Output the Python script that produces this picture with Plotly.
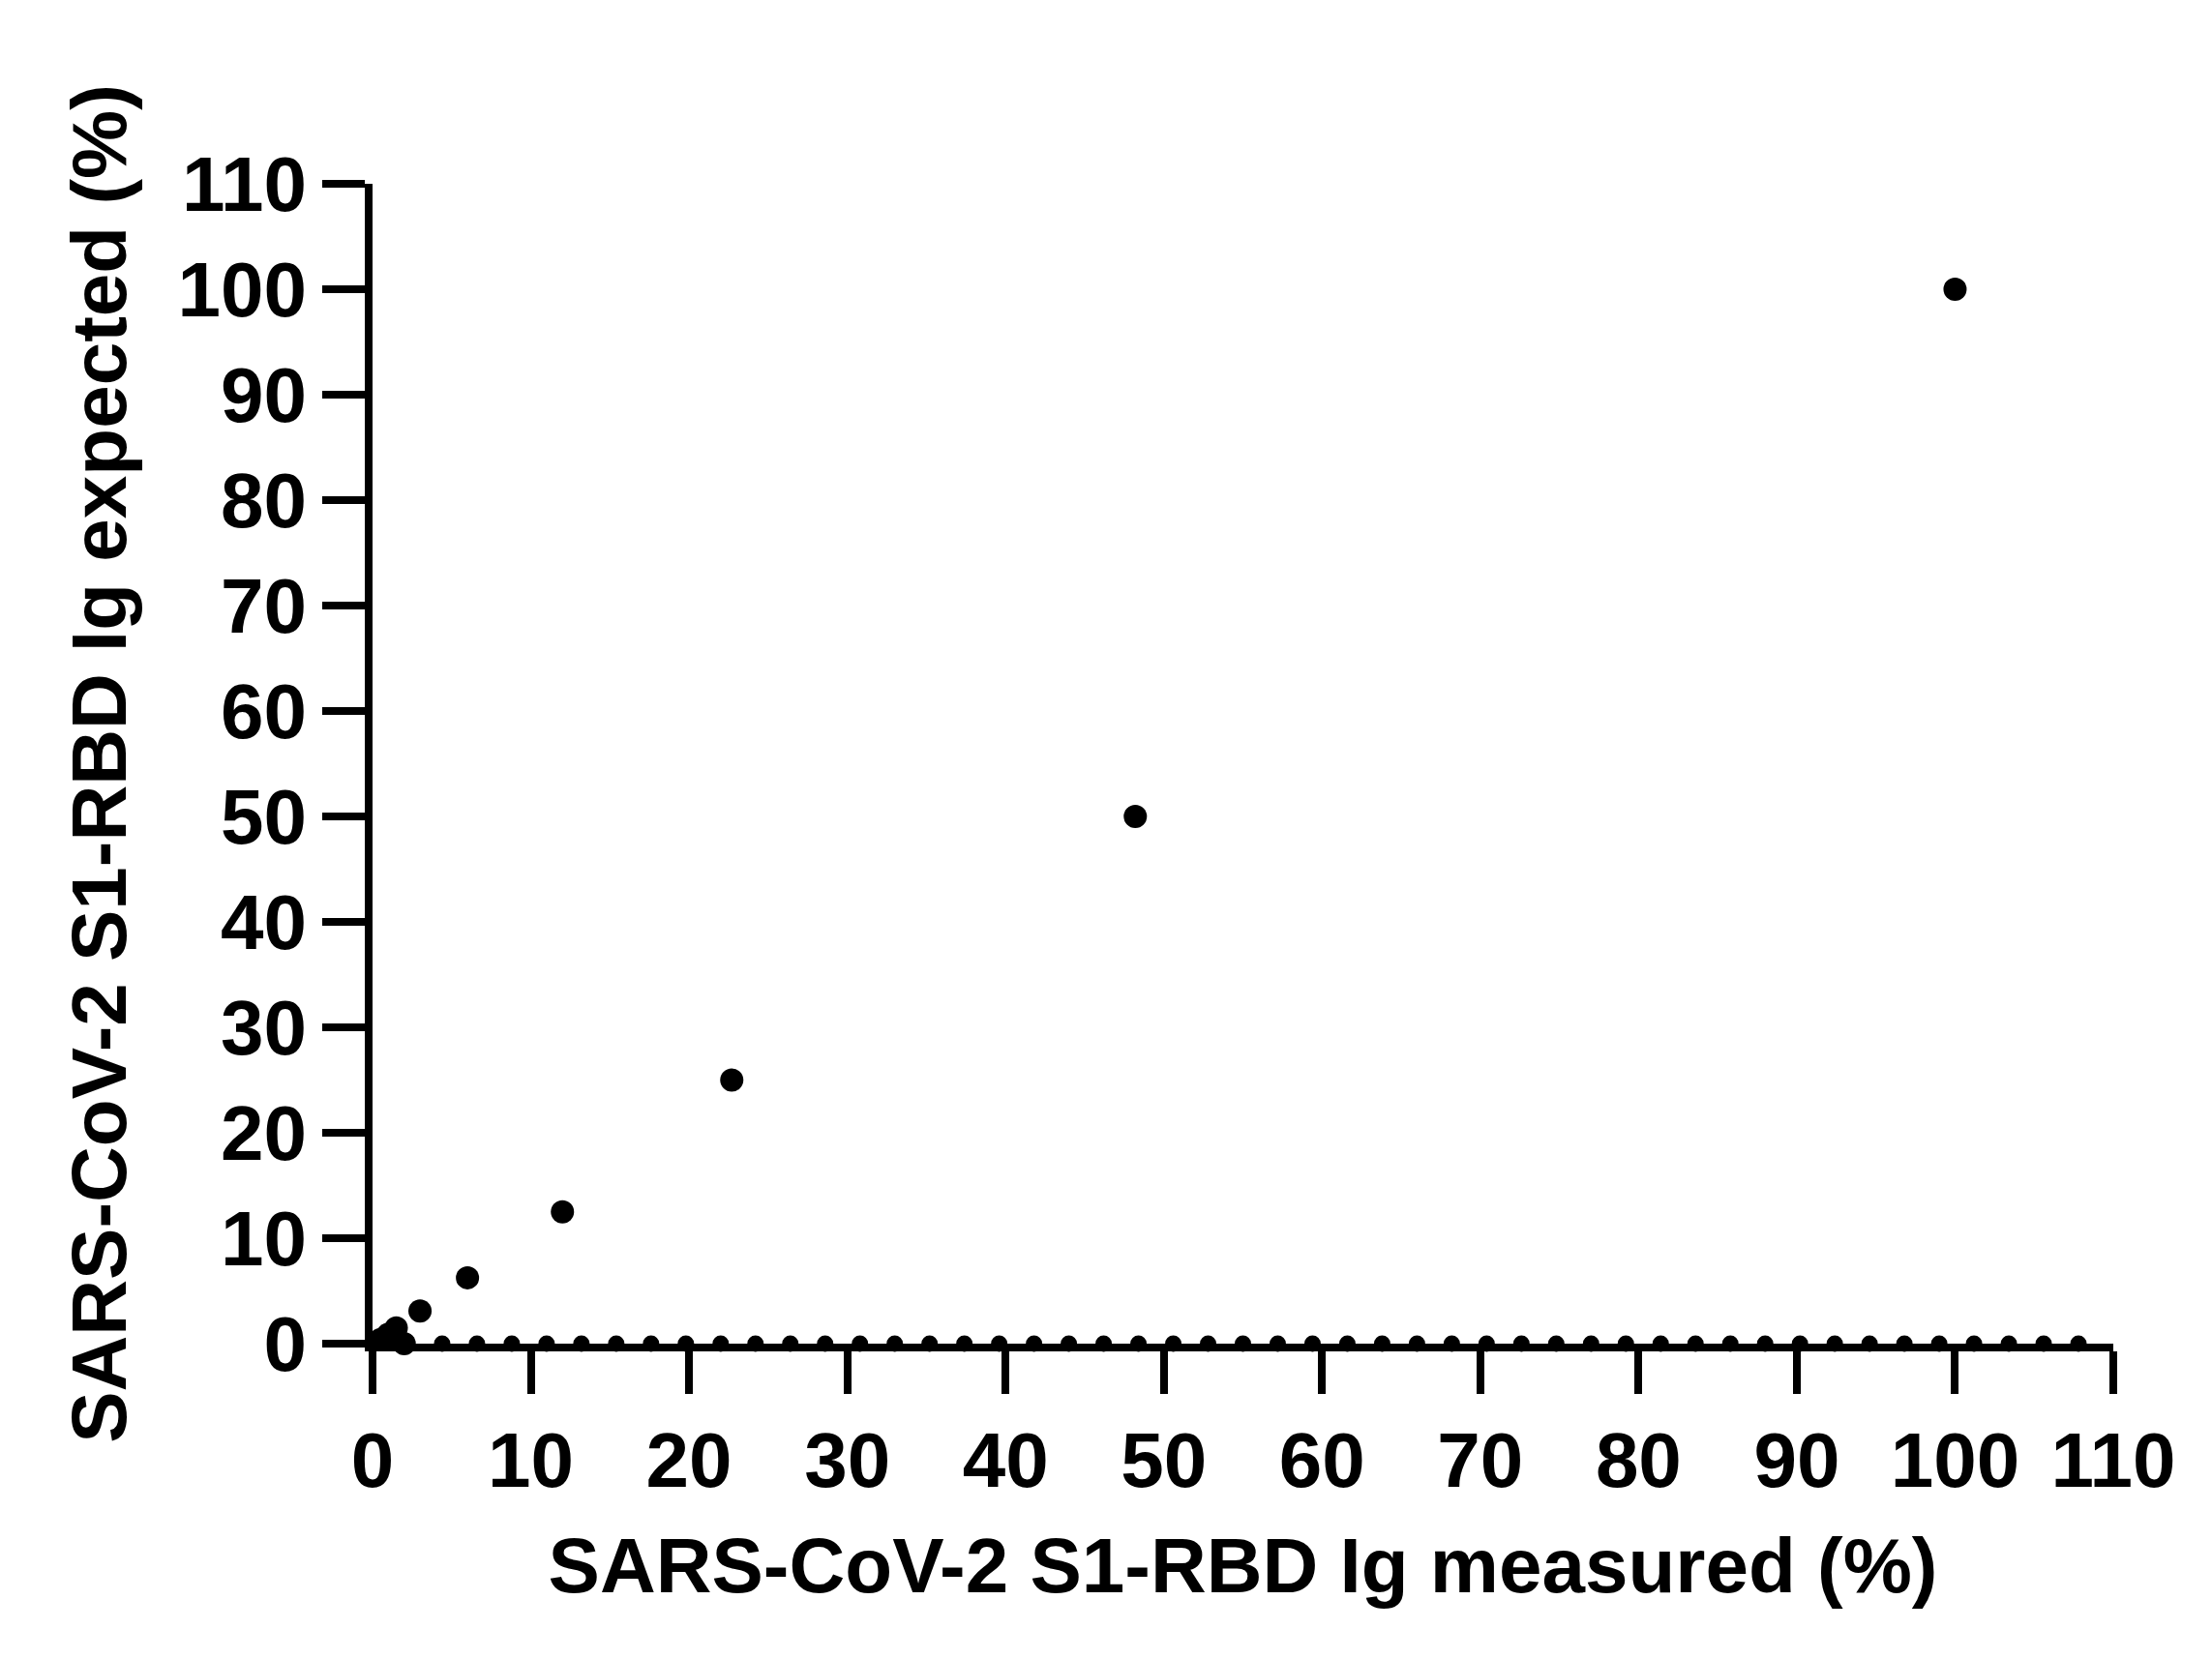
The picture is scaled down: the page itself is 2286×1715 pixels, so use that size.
import plotly.graph_objects as go

# dilution series points
measured = [100, 48.2, 22.7, 12.0, 6.0, 3.0, 1.5, 1.0, 0.5, 2.0]
expected = [100, 50, 25, 12.5, 6.25, 3.1, 1.5, 0.9, 0.4, 0.0]

# points sitting on the x axis (expected 0)
zero_x = [4.4, 6.6, 8.8, 11.0, 13.2, 15.4, 17.6, 19.8, 22.0, 24.2, 26.4, 28.6, 30.8,
          33.0, 35.2, 37.4, 39.6, 41.8, 44.0, 46.2, 48.4, 50.6, 52.8, 55.0, 57.2,
          59.4, 61.6, 63.8, 66.0, 68.2, 70.4, 72.6, 74.8, 77.0, 79.2, 81.4, 83.6,
          85.8, 88.0, 90.2, 92.4, 94.6, 96.8, 99.0, 101.2, 103.4, 105.6, 107.8]
zero_y = [0] * len(zero_x)

ticks = list(range(0, 111, 10))

FONT = dict(family="Liberation Sans, Arial", size=80, color="#000", weight="bold")

fig = go.Figure()
fig.add_trace(go.Scatter(x=zero_x, y=zero_y, mode="markers", cliponaxis=False,
                         marker=dict(color="#000", size=17)))
fig.add_trace(go.Scatter(x=measured, y=expected, mode="markers", cliponaxis=False,
                         marker=dict(color="#000", size=24)))

axis = dict(range=[0, 110], tickvals=ticks, showgrid=False, zeroline=False,
            showline=True, linecolor="#000", linewidth=8,
            ticks="outside", ticklen=44, tickwidth=8, tickcolor="#000",
            tickfont=FONT, layer="above traces")

fig.update_layout(
    width=2286, height=1715,
    margin=dict(l=377, r=110, t=182, b=334),
    plot_bgcolor="white", paper_bgcolor="white",
    showlegend=False,
    xaxis=dict(axis, title=dict(text="SARS-CoV-2 S1-RBD Ig measured (%)",
                                font=FONT, standoff=40)),
    yaxis=dict(axis, title=dict(text="SARS-CoV-2 S1-RBD Ig expected (%)",
                                font=FONT, standoff=30)),
)

fig.write_html("out.html")
